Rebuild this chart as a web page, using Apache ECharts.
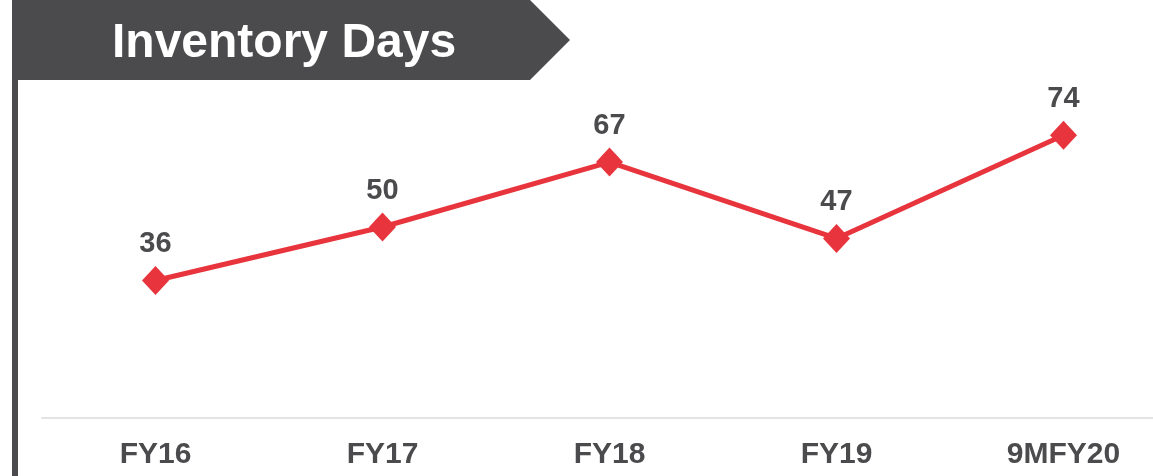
<!DOCTYPE html>
<html>
<head>
<meta charset="utf-8">
<script src="https://cdn.jsdelivr.net/npm/echarts@6/dist/echarts.min.js"></script>
<style>
  html, body { margin: 0; padding: 0; background: #fff; overflow: hidden; }
  /* wider than the window: the slide is cropped on the right */
  #chart { width: 1177px; height: 476px; }
</style>
</head>
<body>
<div id="chart"></div>
<script>
// data
const categories = ['FY16', 'FY17', 'FY18', 'FY19', '9MFY20']
const inventoryDays = [36, 50, 67, 47, 74]

const chart = echarts.init(document.getElementById('chart'))
chart.setOption({
  animation: false,
  grid: { left: 42, right: 0, top: 36, bottom: 58 },
  xAxis: {
    type: 'category',
    data: categories,
    axisLine: { lineStyle: { color: '#e3e3e3', width: 2 } },
    axisTick: { show: false },
    axisLabel: {
      margin: 22,
      color: '#4b4b4d',
      fontSize: 30,
      fontWeight: 'bold',
      fontFamily: 'Liberation Sans, Arial, sans-serif'
    }
  },
  yAxis: {
    type: 'value',
    min: 0,
    max: 100,
    show: false
  },
  series: [
    {
      type: 'line',
      data: inventoryDays,
      symbol: 'diamond',
      symbolSize: [27, 29],
      lineStyle: { color: '#e8353d', width: 5 },
      itemStyle: { color: '#e8353d' },
      label: {
        show: true,
        position: 'top',
        distance: 7,
        color: '#4b4b4d',
        fontSize: 29,
        fontWeight: 'bold',
        fontFamily: 'Liberation Sans, Arial, sans-serif'
      }
    }
  ],
  graphic: [
    {
      type: 'rect',
      shape: { x: 12, y: 0, width: 6, height: 476 },
      style: { fill: '#4b4b4d' }
    },
    {
      type: 'polygon',
      shape: { points: [[12, 0], [530, 0], [570, 40], [530, 80], [12, 80]] },
      style: { fill: '#4b4b4d' }
    },
    {
      type: 'text',
      x: 112,
      y: 44,
      style: {
        text: 'Inventory Days',
        fill: '#ffffff',
        fontSize: 48,
        fontWeight: 'bold',
        verticalAlign: 'middle',
        fontFamily: 'Liberation Sans, Arial, sans-serif'
      }
    }
  ]
})
</script>
</body>
</html>
